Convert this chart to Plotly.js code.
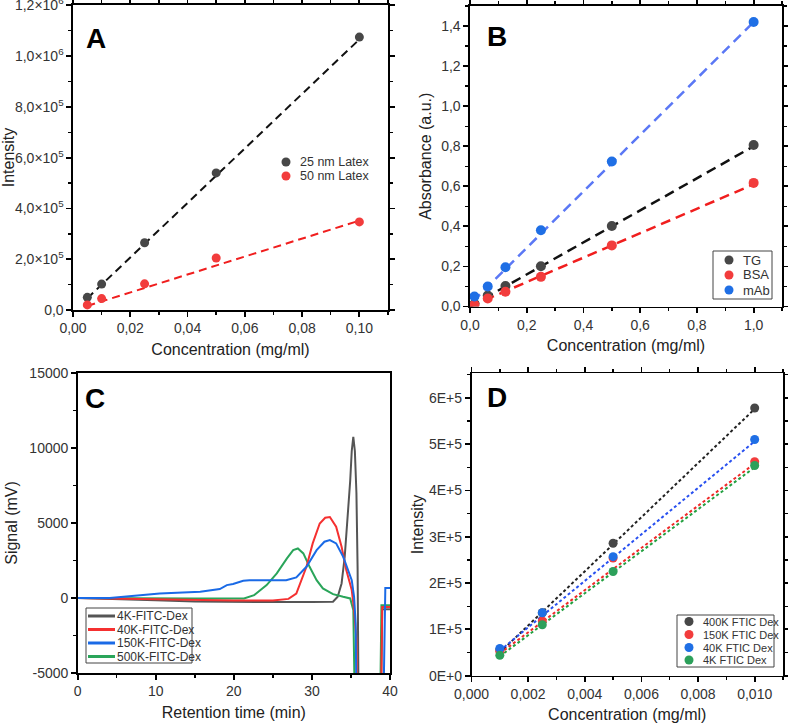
<!DOCTYPE html>
<html>
<head>
<meta charset="utf-8">
<script src="https://cdn.plot.ly/plotly-3.0.1.min.js"></script>
<style>
  html, body { margin: 0; padding: 0; background: #fff; }
  #chart { width: 788px; height: 724px; }
</style>
</head>
<body>
<div id="chart"></div>
<script>
// ---------- Panel A: latex calibration ----------
const concA = [0.005, 0.01, 0.025, 0.05, 0.1];
const latex25 = [50000, 102000, 265000, 540000, 1075000];
const latex50 = [20000, 45000, 103000, 205000, 347000];
const fitA_x = [0.005, 0.1];
const fitA_25 = [46000, 1066000];
const fitA_50 = [16000, 352000];
const tickValsA_x = [0, 0.02, 0.04, 0.06, 0.08, 0.10];
const tickTextA_x = ['0,00', '0,02', '0,04', '0,06', '0,08', '0,10'];
const tickValsA = [0, 200000, 400000, 600000, 800000, 1000000, 1200000];
const tickTextA = ['0,0', '2,0×10<sup>5</sup>', '4,0×10<sup>5</sup>', '6,0×10<sup>5</sup>',
                   '8,0×10<sup>5</sup>', '1,0×10<sup>6</sup>', '1,2×10<sup>6</sup>'];

// ---------- Panel B: absorbance calibration ----------
const concB = [0.0156, 0.0625, 0.125, 0.25, 0.5, 1.0];
const absTG = [0.012, 0.055, 0.102, 0.201, 0.402, 0.806];
const absBSA = [0.008, 0.040, 0.074, 0.148, 0.305, 0.617];
const absMAb = [0.050, 0.100, 0.196, 0.381, 0.724, 1.420];
const fitB_x = [0.0, 1.0];
const fitB_TG = [0.0, 0.80];
const fitB_BSA = [0.0, 0.61];
const fitB_mAb_x = [0.01, 1.0];
const fitB_mAb = [0.025, 1.42];
const tickValsB_x = [0, 0.2, 0.4, 0.6, 0.8, 1.0];
const tickTextB_x = ['0,0', '0,2', '0,4', '0,6', '0,8', '1,0'];
const tickValsB_y = [0, 0.2, 0.4, 0.6, 0.8, 1.0, 1.2, 1.4];
const tickTextB_y = ['0,0', '0,2', '0,4', '0,6', '0,8', '1,0', '1,2', '1,4'];

// ---------- Panel C: chromatograms ----------
const t4K = [0, 5, 10, 15, 20, 25, 30, 32.7, 33.3, 33.8, 34.2, 34.6, 34.9, 35.1, 35.3, 35.5, 35.7, 35.85, 36.0, 38.8, 39.0, 40];
const s4K = [0, -60, -150, -230, -270, -270, -260, -250, 80, 970, 2750, 5400, 7800, 9800, 10750, 9800, 7000, 2000, -9000, -9000, -750, -750];
const t40K = [0, 5, 10, 15, 20, 25, 27, 28, 29.3, 30.1, 31.0, 31.7, 32.3, 33.1, 33.8, 34.4, 35.1, 35.4, 35.7, 35.85, 38.8, 39.0, 40];
const s40K = [0, -40, -100, -130, -160, -160, -60, 300, 2080, 3640, 4970, 5350, 5400, 4750, 3410, 1860, 530, -800, -2800, -9000, -9000, -600, -600];
const t150K = [0, 4.1, 10.5, 15.7, 18.2, 19.1, 19.9, 21.2, 22.0, 24.2, 26.7, 28.0, 29.3, 30.6, 31.6, 32.3, 33.1, 34.0, 34.6, 35.1, 35.4, 35.6, 35.75, 39.1, 39.4, 40];
const s150K = [0, 0, 300, 410, 600, 860, 930, 1150, 1190, 1190, 1190, 1370, 2080, 3190, 3750, 3860, 3640, 2750, 1970, 1190, 80, -1670, -9000, -9000, 660, 660];
const t500K = [0, 5, 10, 15, 21.3, 22.6, 24.2, 25.5, 26.8, 27.6, 28.2, 28.9, 29.7, 30.6, 31.4, 32.7, 34.0, 34.9, 35.3, 35.55, 38.7, 38.9, 40];
const s500K = [0, -20, -40, -40, -30, 190, 860, 1640, 2640, 3190, 3300, 2970, 2080, 1190, 640, 260, 80, -30, -800, -9000, -9000, -480, -480];
const tickValsC_x = [0, 10, 20, 30, 40];
const tickTextC_x = ['0', '10', '20', '30', '40'];
const tickValsC_y = [-5000, 0, 5000, 10000, 15000];
const tickTextC_y = ['-5000', '0', '5000', '10000', '15000'];

// ---------- Panel D: dextran calibration ----------
const concD = [0.001, 0.0025, 0.005, 0.01];
const dex400K = [56000, 136000, 286000, 578000];
const dex150K = [52000, 118000, 254000, 462000];
const dex40K = [59000, 136000, 257000, 510000];
const dex4K = [44000, 110000, 225000, 454000];
const fitD_x = [0.001, 0.01];
const fitD_400K = [50000, 576000];
const fitD_150K = [48000, 458000];
const fitD_40K = [54000, 506000];
const fitD_4K = [42000, 450000];
const tickValsD_x = [0, 0.002, 0.004, 0.006, 0.008, 0.010];
const tickTextD_x = ['0,000', '0,002', '0,004', '0,006', '0,008', '0,010'];
const tickValsD_y = [0, 100000, 200000, 300000, 400000, 500000, 600000];
const tickTextD_y = ['0E+0', '1E+5', '2E+5', '3E+5', '4E+5', '5E+5', '6E+5'];

// ---------- styling ----------
const C_DARK = '#474747', C_RED = '#f23c3c', C_BLUE = '#1f6fe5', C_GREEN = '#2ca05a';
const FONT = 'Liberation Sans, Arial, sans-serif';
const W = 788, H = 724;
const px = x => x / W;
const py = y => 1 - y / H;

function axisBase(extra) {
  return Object.assign({
    showline: true, linecolor: '#000', linewidth: 1.6,
    ticks: 'outside', ticklen: 5, tickwidth: 1.8, tickcolor: '#000',
    mirror: 'ticks', showgrid: false, zeroline: false,
    tickfont: { family: FONT, size: 14, color: '#333' },
    ticklabeloverflow: 'allow'
  }, extra);
}
function minor(dtick, tick0) {
  return { ticks: 'outside', ticklen: 3, tickwidth: 1.4, tickcolor: '#000', dtick: dtick, tick0: tick0 || 0 };
}
function title(text, standoff) {
  return { text: text, standoff: standoff, font: { family: FONT, size: 16, color: '#222' } };
}

const pts = (x, y, color, xa, ya, size) => ({
  x: x, y: y, xaxis: xa, yaxis: ya, type: 'scatter', mode: 'markers',
  marker: { color: color, size: size || 9 }, showlegend: false, hoverinfo: 'skip'
});
const line = (x, y, color, xa, ya, dash, width) => ({
  x: x, y: y, xaxis: xa, yaxis: ya, type: 'scatter', mode: 'lines',
  line: { color: color, dash: dash, width: width || 2 }, showlegend: false, hoverinfo: 'skip'
});

const data = [
  // A
  line(fitA_x, fitA_25, '#111', 'x', 'y', '8px,5px', 2),
  line(fitA_x, fitA_50, '#f01e1e', 'x', 'y', '8px,5px', 2),
  pts(concA, latex25, C_DARK, 'x', 'y'),
  pts(concA, latex50, C_RED, 'x', 'y'),
  // B
  line(fitB_mAb_x, fitB_mAb, '#5b78f5', 'x2', 'y2', '10px,6px', 2.5),
  line(fitB_x, fitB_TG, '#111', 'x2', 'y2', '10px,6px', 2.5),
  line(fitB_x, fitB_BSA, '#f01e1e', 'x2', 'y2', '10px,6px', 2.5),
  pts(concB, absTG, C_DARK, 'x2', 'y2', 10),
  pts(concB, absBSA, C_RED, 'x2', 'y2', 10),
  pts(concB, absMAb, C_BLUE, 'x2', 'y2', 10),
  // C
  line(t4K, s4K, '#555555', 'x3', 'y3', 'solid', 2),
  line(t500K, s500K, '#2aa55a', 'x3', 'y3', 'solid', 2),
  line(t40K, s40K, '#f53030', 'x3', 'y3', 'solid', 2),
  line(t150K, s150K, '#1a6ae6', 'x3', 'y3', 'solid', 2),
  // D
  line(fitD_x, fitD_400K, '#222', 'x4', 'y4', '3px,2.5px', 2),
  line(fitD_x, fitD_40K, '#2850f0', 'x4', 'y4', '3px,2.5px', 2),
  line(fitD_x, fitD_150K, '#f02828', 'x4', 'y4', '3px,2.5px', 2),
  line(fitD_x, fitD_4K, '#22a040', 'x4', 'y4', '3px,2.5px', 2),
  pts(concD, dex400K, C_DARK, 'x4', 'y4'),
  pts(concD, dex150K, C_RED, 'x4', 'y4'),
  pts(concD, dex40K, C_BLUE, 'x4', 'y4'),
  pts(concD, dex4K, C_GREEN, 'x4', 'y4')
];

// legend keys (symbols drawn as shapes, labels as annotations)
const shapes = [];
const annotations = [];
function dotKey(x, y, color, label, size) {
  shapes.push({ type: 'circle', xref: 'paper', yref: 'paper', xsizemode: 'pixel', ysizemode: 'pixel',
    xanchor: px(x), yanchor: py(y), x0: -4.5, x1: 4.5, y0: -4.5, y1: 4.5,
    fillcolor: color, line: { width: 0 } });
  annotations.push({ xref: 'paper', yref: 'paper', x: px(x + 13), y: py(y), xanchor: 'left', yanchor: 'middle',
    text: label, showarrow: false, borderpad: 0, font: { family: FONT, size: size, color: '#333' } });
}
function lineKey(x0, x1, y, color, label) {
  shapes.push({ type: 'line', xref: 'paper', yref: 'paper', x0: px(x0), x1: px(x1), y0: py(y), y1: py(y),
    line: { color: color, width: 3 } });
  annotations.push({ xref: 'paper', yref: 'paper', x: px(x1 + 1), y: py(y), xanchor: 'left', yanchor: 'middle',
    text: label, showarrow: false, borderpad: 0, font: { family: FONT, size: 12, color: '#333' } });
}
function box(x0, y0, x1, y1) {
  shapes.push({ type: 'rect', xref: 'paper', yref: 'paper', x0: px(x0), x1: px(x1), y0: py(y0), y1: py(y1),
    line: { color: '#444', width: 1 }, fillcolor: 'rgba(255,255,255,0)' });
}

// A legend
dotKey(286, 162, C_DARK, '25 nm Latex', 12.5);
dotKey(286, 176, C_RED, '50 nm Latex', 12.5);
// B legend
box(713, 251, 772, 299);
dotKey(729, 260, C_DARK, 'TG', 13);
dotKey(729, 275, C_RED, 'BSA', 13);
dotKey(729, 290, C_BLUE, 'mAb', 13);
// C legend
box(86, 608, 192, 663);
lineKey(88, 115, 616, '#555555', '4K-FITC-Dex');
lineKey(88, 115, 629.5, '#f53030', '40K-FITC-Dex');
lineKey(88, 115, 643, '#1a6ae6', '150K-FITC-Dex');
lineKey(88, 115, 656.5, '#2aa55a', '500K-FITC-Dex');
// D legend
box(677, 615, 774, 667);
dotKey(689, 621.5, C_DARK, '400K FTIC Dex', 11);
dotKey(689, 634.5, C_RED, '150K FTIC Dex', 11);
dotKey(689, 647.5, C_BLUE, '40K FTIC Dex', 11);
dotKey(689, 660, C_GREEN, '4K FTIC Dex', 11);

// panel letters
[['A', 96, 38], ['B', 497, 37], ['C', 95, 398], ['D', 497, 397]].forEach(([t, x, y]) => {
  annotations.push({ xref: 'paper', yref: 'paper', x: px(x), y: py(y), xanchor: 'center', yanchor: 'middle',
    text: '<b>' + t + '</b>', showarrow: false, font: { family: FONT, size: 28, color: '#000' } });
});

const layout = {
  width: W, height: H,
  margin: { l: 0, r: 0, t: 0, b: 0 },
  paper_bgcolor: '#fff', plot_bgcolor: '#fff',
  separators: ', ',
  showlegend: false,
  xaxis: axisBase({ domain: [px(73), px(388)], range: [0, 0.11], anchor: 'y',
    tickvals: tickValsA_x, ticktext: tickTextA_x,
    minor: minor(0.01), title: title('Concentration (mg/ml)', 8) }),
  yaxis: axisBase({ domain: [py(310), py(5)], range: [0, 1.2015e6], anchor: 'x',
    tickvals: tickValsA, ticktext: tickTextA,
    minor: minor(100000), title: title('Intensity', 1) }),
  xaxis2: axisBase({ domain: [px(470), px(782)], range: [0, 1.1], anchor: 'y2',
    tickvals: tickValsB_x, ticktext: tickTextB_x,
    minor: minor(0.1), title: title('Concentration (mg/ml)', 8) }),
  yaxis2: axisBase({ domain: [py(306.5), py(6)], range: [0, 1.5], anchor: 'x2',
    tickvals: tickValsB_y, ticktext: tickTextB_y,
    minor: minor(0.1), title: title('Absorbance (a.u.)', 5) }),
  xaxis3: axisBase({ domain: [px(77.7), px(390)], range: [0, 40], anchor: 'y3', mirror: true,
    tickvals: tickValsC_x, ticktext: tickTextC_x,
    minor: minor(5), title: title('Retention time (min)', 8) }),
  yaxis3: axisBase({ domain: [py(673), py(373)], range: [-5000, 15000], anchor: 'x3', mirror: true,
    tickvals: tickValsC_y, ticktext: tickTextC_y,
    minor: minor(2500, -5000), title: title('Signal (mV)', 8) }),
  xaxis4: axisBase({ domain: [px(471.5), px(783)], range: [0, 0.011], anchor: 'y4',
    tickvals: tickValsD_x, ticktext: tickTextD_x,
    minor: minor(0.001), title: title('Concentration (mg/ml)', 8) }),
  yaxis4: axisBase({ domain: [py(675.7), py(373.3)], range: [0, 653000], anchor: 'x4',
    tickvals: tickValsD_y, ticktext: tickTextD_y,
    minor: minor(50000), title: title('Intensity', 1) }),
  shapes: shapes,
  annotations: annotations
};

Plotly.newPlot('chart', data, layout, { staticPlot: true, displayModeBar: false });
</script>
</body>
</html>
